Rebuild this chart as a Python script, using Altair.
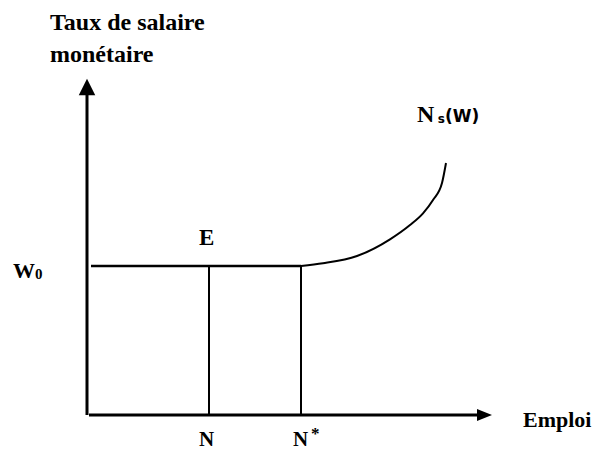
import altair as alt
import pandas as pd

# ---- Diagram values (arbitrary units: employment on x, money wage on y) ----
W0 = 14.9          # rigid money wage
N_E = 12.2         # employment level N (point E)
N_STAR = 21.4      # full-employment level N*
X_AXIS_END = 39.2  # end of the employment axis shaft
Y_AXIS_END = 32.4  # end of the wage axis shaft
curve_x = [21.4, 23.6, 27.0, 30.3, 32.3, 33.6, 34.6, 35.5, 35.9]
curve_y = [14.9, 15.17, 15.9, 17.57, 19.0, 20.17, 21.5, 23.2, 25.2]

serif_text = ["Taux de salaire", "monétaire", "E", "W", "0", "N", "N", "*", "Emploi", "N"]
serif_x = [-3.7, -3.7, 11.2, -7.4, -5.2, 11.2, 20.6, 22.4, 43.6, 33.0]
serif_y = [38.5, 35.3, 17.0, 13.7, 13.6, -3.05, -3.05, -2.35, -1.2, 29.3]
serif_size = [24, 24, 23, 22, 15, 21, 21, 17, 22, 24]

sans_text = ["s", "(W)"]
sans_x = [35.07, 35.8]
sans_y = [29.17, 29.3]
sans_size = [12, 17]

xs = alt.Scale(domain=[-7.9, 50.5], nice=False, zero=False)
ys = alt.Scale(domain=[-3.5, 40.7], nice=False, zero=False)
X = lambda f: alt.X(f, type="quantitative", scale=xs, axis=None)
Y = lambda f: alt.Y(f, type="quantitative", scale=ys, axis=None)

# axes shafts
axes_df = pd.DataFrame({
    "x": [0.0, 0.2], "x2": [0.0, X_AXIS_END],
    "y": [0.0, 0.0], "y2": [Y_AXIS_END, 0.0],
})
axes = alt.Chart(axes_df).mark_rule(color="black", strokeWidth=3).encode(
    x=X("x"), x2="x2", y=Y("y"), y2="y2")

# W0 horizontal and the two verticals
guides_df = pd.DataFrame({
    "x": [0.4, N_E, N_STAR], "x2": [N_STAR, N_E, N_STAR],
    "y": [W0, 0.0, 0.0], "y2": [W0, W0, W0],
    "w": [2.5, 2, 2],
})
guides = alt.Chart(guides_df).mark_rule(color="black").encode(
    x=X("x"), x2="x2", y=Y("y"), y2="y2",
    strokeWidth=alt.StrokeWidth("w:Q", scale=None))

# arrowheads
up = alt.Chart(pd.DataFrame({"x": [0.0], "y": [32.8]})).mark_point(
    shape="M0,-1L-1,1L1,1Z", size=272, filled=True, color="black", opacity=1
).encode(x=X("x"), y=Y("y"))
right = alt.Chart(pd.DataFrame({"x": [39.75], "y": [0.0]})).mark_point(
    shape="M1,0L-1,-0.8L-1,0.8Z", size=225, filled=True, color="black", opacity=1
).encode(x=X("x"), y=Y("y"))

# supply curve
curve = alt.Chart(pd.DataFrame({"x": curve_x, "y": curve_y})).mark_line(
    color="black", strokeWidth=2, interpolate="monotone"
).encode(x=X("x"), y=Y("y"), order="x:Q")

serif = alt.Chart(pd.DataFrame({"t": serif_text, "x": serif_x, "y": serif_y, "s": serif_size})).mark_text(
    font="Liberation Serif", fontWeight="bold", align="left", baseline="alphabetic", color="black"
).encode(x=X("x"), y=Y("y"), text="t:N", size=alt.Size("s:Q", scale=None))

sans = alt.Chart(pd.DataFrame({"t": sans_text, "x": sans_x, "y": sans_y, "s": sans_size})).mark_text(
    font="DejaVu Sans", fontWeight="bold", align="left", baseline="alphabetic", color="black"
).encode(x=X("x"), y=Y("y"), text="t:N", size=alt.Size("s:Q", scale=None))

chart = alt.layer(axes, guides, curve, up, right, serif, sans).properties(
    width=584, height=442, padding=0, autosize=alt.AutoSizeParams(type="none")
).configure_view(stroke=None)

chart.save("out.html", embed_options={"renderer": "svg", "actions": False})
